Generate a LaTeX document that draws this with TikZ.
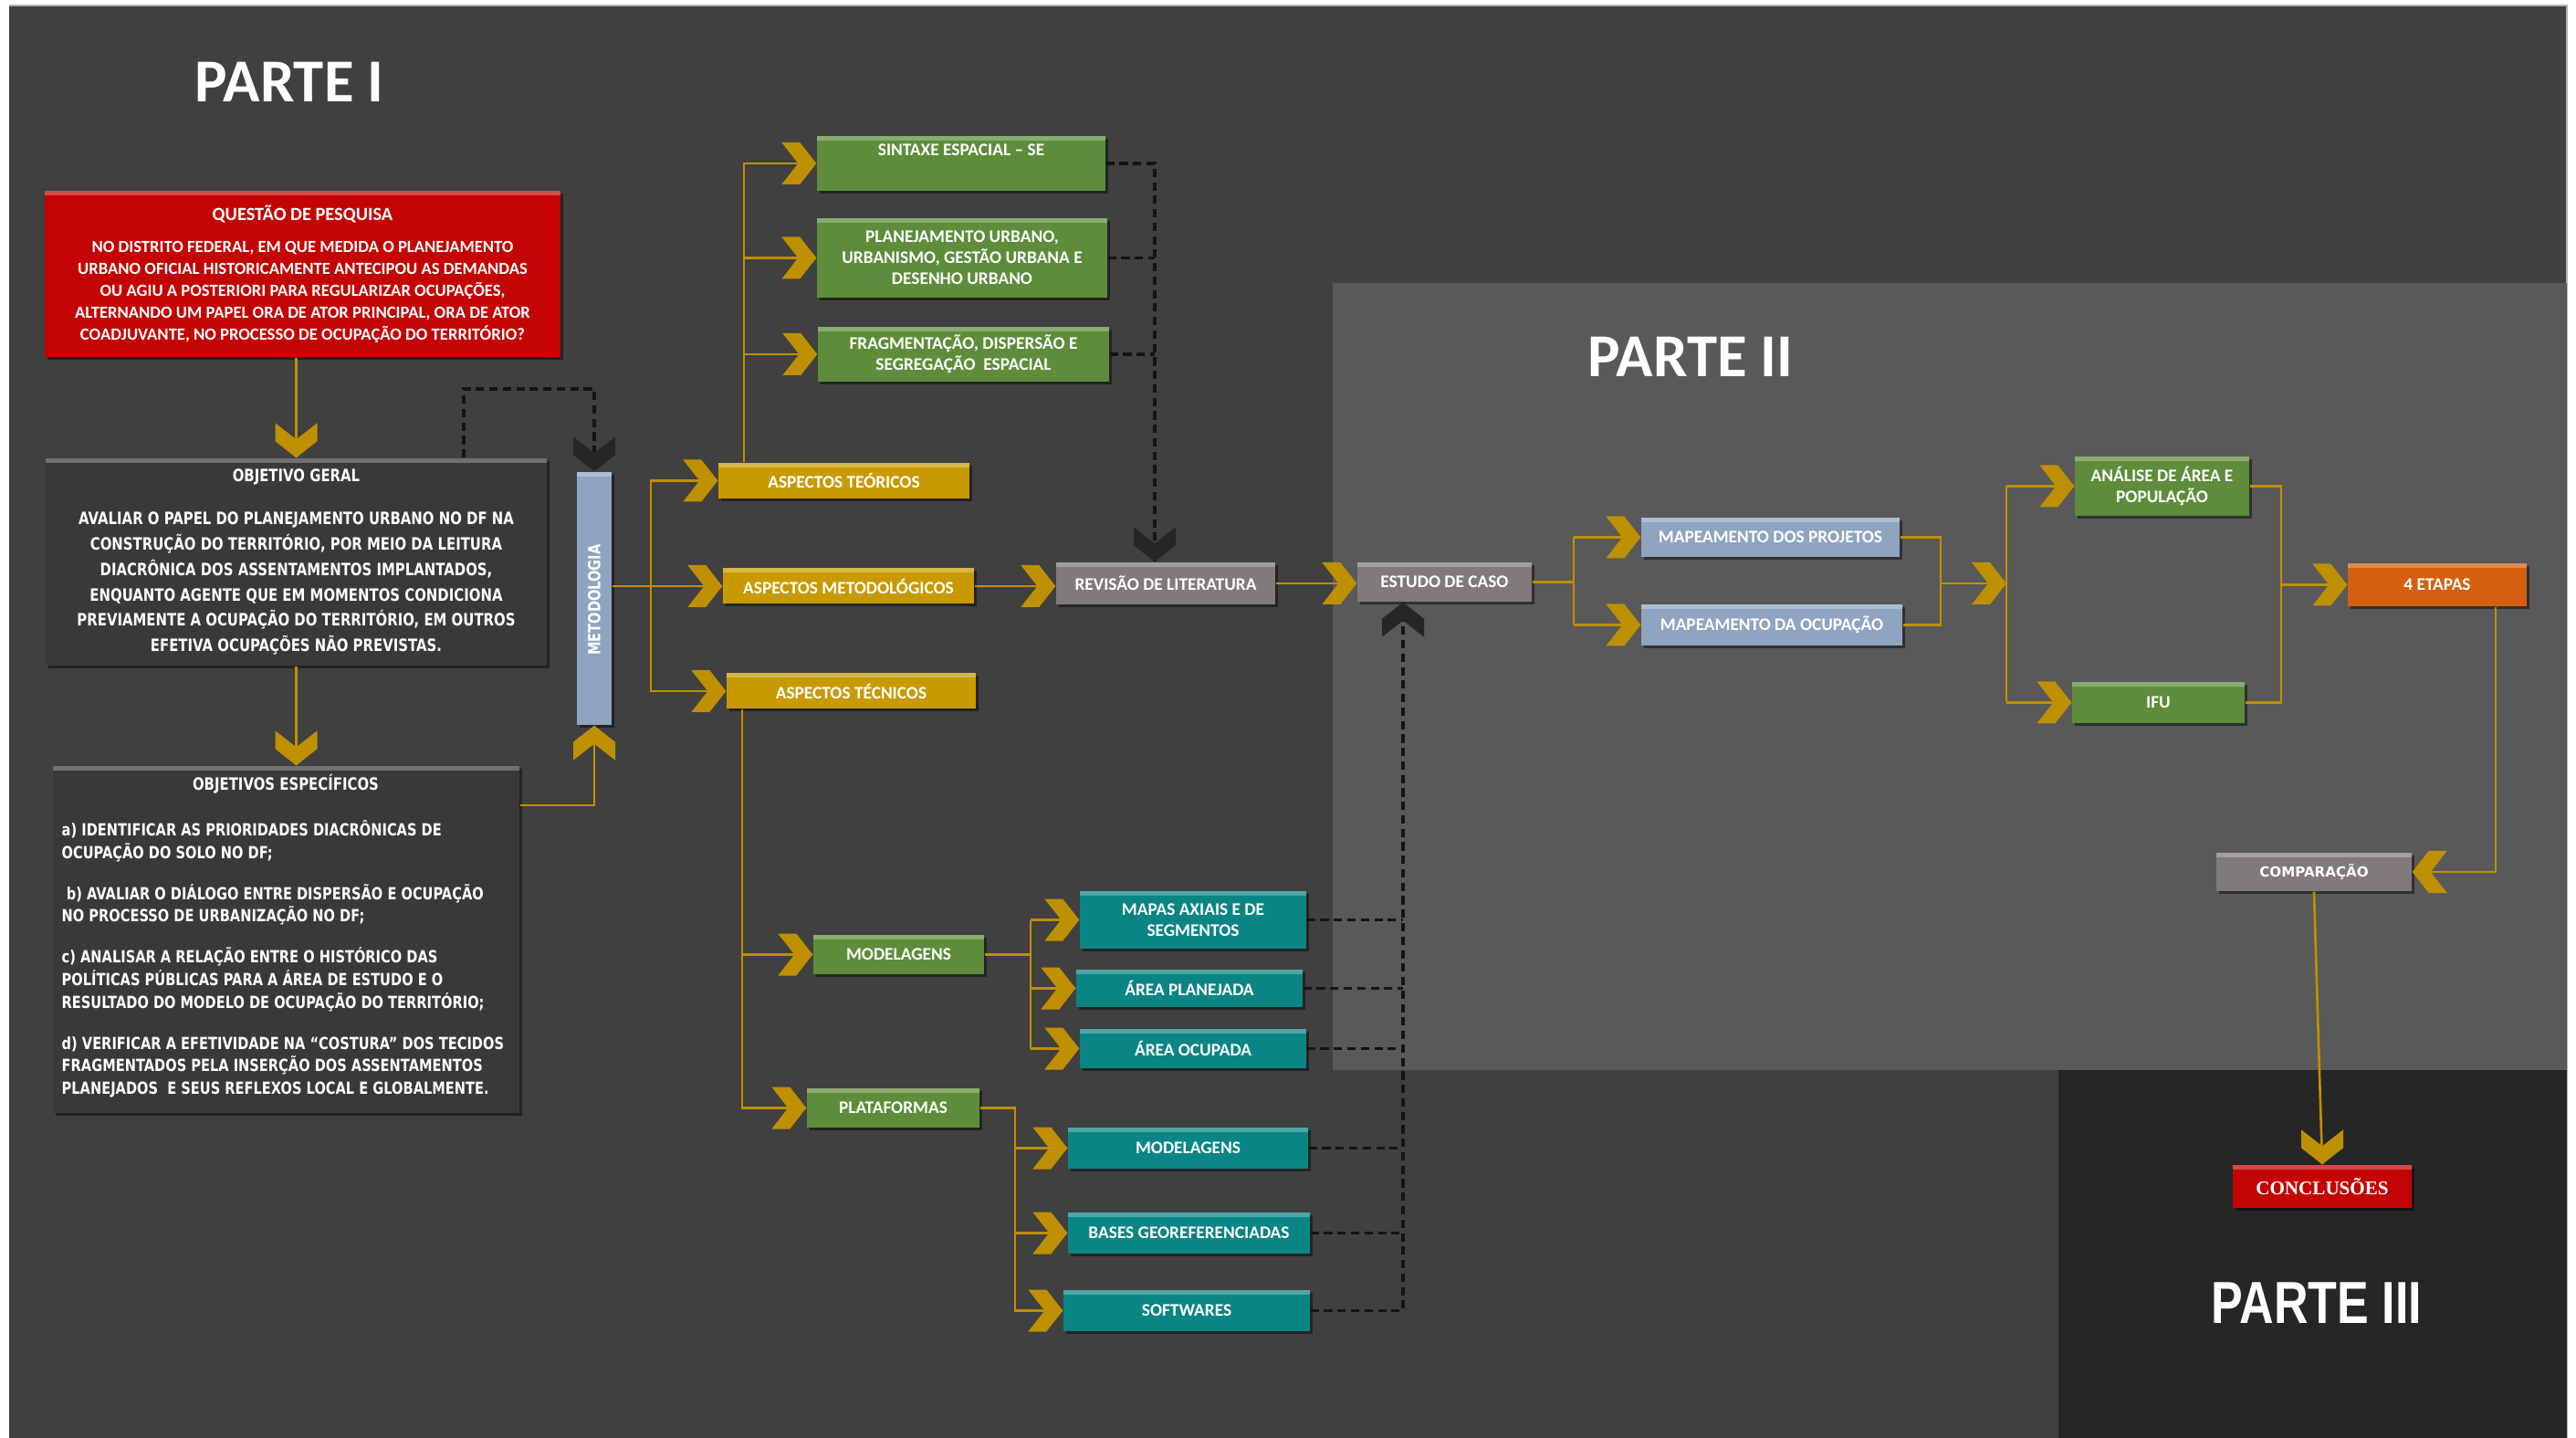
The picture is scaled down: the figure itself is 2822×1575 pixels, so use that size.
\documentclass[tikz,border=0pt]{standalone}
\usepackage{fontspec}
\usetikzlibrary{shadows}
\newfontfamily\fcal{Carlito}
\newfontfamily\fver[FakeStretch=0.8]{DejaVu Sans}
\newfontfamily\fverw{DejaVu Sans}
\newfontfamily\fari[FakeStretch=0.8]{Liberation Sans}
\newfontfamily\fser{Liberation Serif}
\definecolor{bgdark}{HTML}{404040}
\definecolor{parttwo}{HTML}{595959}
\definecolor{partthree}{HTML}{262626}
\definecolor{gold0}{HTML}{BF9000}
\definecolor{red0}{HTML}{C40404}
\definecolor{gray0}{HTML}{3B3838}
\definecolor{blue0}{HTML}{8EA4C1}
\definecolor{yel0}{HTML}{C99A00}
\definecolor{green0}{HTML}{5D8D3A}
\definecolor{teal0}{HTML}{0A8585}
\definecolor{grayb}{HTML}{7F7B7B}
\definecolor{orange0}{HTML}{D4600F}
\definecolor{blk}{HTML}{262626}
\begin{document}
\begin{tikzpicture}[x=0.1mm,y=-0.1mm,
  box/.style={fill=#1, text=white, inner sep=0pt, align=center,
    drop shadow={shadow xshift=0.8pt, shadow yshift=-0.8pt, opacity=0.45, fill=black},
    path picture={\fill[white,opacity=0.28] (path picture bounding box.north west) rectangle ([yshift=-1.4pt]path picture bounding box.north east);},
    font=\fcal\bfseries\fontsize{5.5}{6.6}\selectfont},
  gl/.style={draw=gold0, line width=0.75pt},
  dl/.style={draw=black!92, line width=0.9pt, dash pattern=on 2.6pt off 1.6pt},
  title/.style={text=white, inner sep=0pt},
  pics/chR/.style={code={\fill[pic actions] (0,0)--(-18,-23)--(-38,-23)--(-20,0)--(-38,23)--(-18,23)--cycle;}},
  pics/chL/.style={code={\fill[pic actions] (0,0)--(18,-23)--(38,-23)--(20,0)--(38,23)--(18,23)--cycle;}},
  pics/chD/.style={code={\fill[pic actions] (0,0)--(-23,-18)--(-23,-38)--(0,-20)--(23,-38)--(23,-18)--cycle;}},
  pics/chU/.style={code={\fill[pic actions] (0,0)--(-23,18)--(-23,38)--(0,20)--(23,38)--(23,18)--cycle;}},
]
\useasboundingbox (0,0) rectangle (2822,1575);
\fill[white] (0,0) rectangle (2822,1575);
\fill[bgdark] (10,6) rectangle (2812,1575);
\draw[color=black!30, line width=0.4pt] (10,6) -- (2812,6) -- (2812,1575);
\fill[parttwo] (1460,310) rectangle (2812,1172);
\fill[partthree] (2255,1172) rectangle (2812,1575);

% titles
\node[title, font=\fcal\bfseries\fontsize{19}{19}\selectfont] (p1) at (317,90) {PARTE I};
\node[title, font=\fcal\bfseries\fontsize{19}{19}\selectfont] (p2) at (1852,391) {PARTE II};
\node[title, font=\fari\bfseries\fontsize{18.5}{18.5}\selectfont] (p3) at (2538,1427) {PARTE III};

% ---------- nodes ----------
\node[box=red0, minimum width=56.5mm, minimum height=18.2mm, font=\fcal\bfseries\fontsize{5.3}{6.8}\selectfont] (q) at (331.5,300)
 {{\fontsize{5.8}{6.8}\selectfont QUESTÃO DE PESQUISA}\\[3.4pt]
  NO DISTRITO FEDERAL, EM QUE MEDIDA O PLANEJAMENTO\\
  URBANO OFICIAL HISTORICAMENTE ANTECIPOU AS DEMANDAS\\
  OU AGIU A POSTERIORI PARA REGULARIZAR OCUPAÇÕES,\\
  ALTERNANDO UM PAPEL ORA DE ATOR PRINCIPAL, ORA DE ATOR\\
  COADJUVANTE, NO PROCESSO DE OCUPAÇÃO DO TERRITÓRIO?};

\node[box=gray0, minimum width=54.9mm, minimum height=22.7mm, font=\fver\bfseries\fontsize{5.3}{7.9}\selectfont] (og) at (324.5,615.5)
 {OBJETIVO GERAL\\[5.5pt]
  AVALIAR O PAPEL DO PLANEJAMENTO URBANO NO DF NA\\
  CONSTRUÇÃO DO TERRITÓRIO, POR MEIO DA LEITURA\\
  DIACRÔNICA DOS ASSENTAMENTOS IMPLANTADOS,\\
  ENQUANTO AGENTE QUE EM MOMENTOS CONDICIONA\\
  PREVIAMENTE A OCUPAÇÃO DO TERRITÓRIO, EM OUTROS\\
  EFETIVA OCUPAÇÕES NÃO PREVISTAS.};

\node[box=gray0, minimum width=51.1mm, minimum height=38mm] (oe) at (313.5,1029) {};
\node[title, font=\fver\bfseries\fontsize{5.3}{7}\selectfont] (oeT) at (313,859) {OBJETIVOS ESPECÍFICOS};
\node[title, anchor=north west, align=left, font=\fver\bfseries\fontsize{5.2}{7}\selectfont] (oeB) at (67,898)
 {a) IDENTIFICAR AS PRIORIDADES DIACRÔNICAS DE\\
  OCUPAÇÃO DO SOLO NO DF;\\[5.8pt]
  \ b) AVALIAR O DIÁLOGO ENTRE DISPERSÃO E OCUPAÇÃO\\
  NO PROCESSO DE URBANIZAÇÃO NO DF;\\[5.8pt]
  c) ANALISAR A RELAÇÃO ENTRE O HISTÓRICO DAS\\
  POLÍTICAS PÚBLICAS PARA A ÁREA DE ESTUDO E O\\
  RESULTADO DO MODELO DE OCUPAÇÃO DO TERRITÓRIO;\\[5.8pt]
  d) VERIFICAR A EFETIVIDADE NA “COSTURA” DOS TECIDOS\\
  FRAGMENTADOS PELA INSERÇÃO DOS ASSENTAMENTOS\\
  PLANEJADOS \ E SEUS REFLEXOS LOCAL E GLOBALMENTE.};

\node[box=blue0, minimum width=3.8mm, minimum height=27.7mm] (met) at (651,655.5) {};
\node[title, rotate=90, font=\fver\bfseries\fontsize{5.2}{6}\selectfont] (metT) at (651,657) {METODOLOGIA};

\node[box=yel0, minimum width=27.5mm, minimum height=3.9mm] (at) at (924.5,526.5) {ASPECTOS TEÓRICOS};
\node[box=yel0, minimum width=27.5mm, minimum height=3.9mm] (am) at (929.5,642) {ASPECTOS METODOLÓGICOS};
\node[box=yel0, minimum width=27.3mm, minimum height=3.9mm] (atc) at (932.5,757) {ASPECTOS TÉCNICOS};

\node[box=green0, minimum width=31.6mm, minimum height=6mm] (sx) at (1053,179) {SINTAXE ESPACIAL – SE\\ \strut};
\node[box=green0, minimum width=31.8mm, minimum height=8.7mm] (pl) at (1054,282.5) {PLANEJAMENTO URBANO,\\URBANISMO, GESTÃO URBANA E\\DESENHO URBANO};
\node[box=green0, minimum width=31.9mm, minimum height=6mm] (fr) at (1055.5,388) {FRAGMENTAÇÃO, DISPERSÃO E\\SEGREGAÇÃO \ ESPACIAL};

\node[box=grayb, minimum width=24mm, minimum height=4.6mm] (rev) at (1277,639) {REVISÃO DE LITERATURA};
\node[box=grayb, minimum width=19.1mm, minimum height=4.3mm] (est) at (1582.5,637.5) {ESTUDO DE CASO};

\node[box=green0, minimum width=18.7mm, minimum height=4.3mm] (mod) at (984.5,1045.5) {MODELAGENS};
\node[box=green0, minimum width=18.9mm, minimum height=4.3mm] (plat) at (978.5,1213.5) {PLATAFORMAS};

\node[box=teal0, minimum width=24.8mm, minimum height=6.3mm] (map) at (1307,1007.5) {MAPAS AXIAIS E DE\\SEGMENTOS};
\node[box=teal0, minimum width=24.8mm, minimum height=4.1mm] (apl) at (1303,1082.5) {ÁREA PLANEJADA};
\node[box=teal0, minimum width=24.8mm, minimum height=4.3mm] (aoc) at (1307,1148.5) {ÁREA OCUPADA};
\node[box=teal0, minimum width=26.3mm, minimum height=4.5mm] (tmod) at (1301.5,1257.5) {MODELAGENS};
\node[box=teal0, minimum width=26.5mm, minimum height=4.5mm] (bas) at (1302.5,1350.5) {BASES GEOREFERENCIADAS};
\node[box=teal0, minimum width=27mm, minimum height=4.5mm] (sof) at (1300,1435.5) {SOFTWARES};

\node[box=blue0, minimum width=28.3mm, minimum height=4.3mm] (mp) at (1939.5,588.5) {MAPEAMENTO DOS PROJETOS};
\node[box=blue0, minimum width=28.6mm, minimum height=4.5mm] (mo) at (1941,684.5) {MAPEAMENTO DA OCUPAÇÃO};
\node[box=green0, minimum width=19.1mm, minimum height=6.5mm] (an) at (2368.5,532.5) {ANÁLISE DE ÁREA E\\POPULAÇÃO};
\node[box=green0, minimum width=18.9mm, minimum height=4.5mm] (ifu) at (2364.5,769.5) {IFU};
\node[box=orange0, minimum width=19.6mm, minimum height=4.7mm] (eta) at (2670,640.5) {4 ETAPAS};
\node[box=grayb, minimum width=21.4mm, minimum height=4.2mm, font=\fverw\bfseries\fontsize{4.3}{5}\selectfont] (cmp) at (2535,955) {COMPARAÇÃO};
\node[box=red0, minimum width=19.6mm, minimum height=4.7mm, font=\fser\bfseries\fontsize{6}{7}\selectfont] (con) at (2544,1299.5) {CONCLUSÕES};

% ---------- junction coordinates ----------
\coordinate (j1) at (651,882);
\coordinate (j2) at (508,426);
\coordinate (j3) at (713,0);
\coordinate (j4) at (815,0);
\coordinate (j5) at (1265,0);
\coordinate (j6) at (813,0);
\coordinate (j7) at (1129,0);
\coordinate (j8) at (1112,0);
\coordinate (j9) at (1537,0);
\coordinate (j10) at (1724,0);
\coordinate (j11) at (2126,0);
\coordinate (j12) at (2198,0);
\coordinate (j13) at (2126,639);
\coordinate (j14) at (2499,0);
\coordinate (j15) at (2734,0);

% ---------- gold connectors ----------
\draw[gl] (q.south -| og.north) -- (og.north);
\draw[gl] (og.south) -- (og.south |- oe.north);
\draw[gl] (oe.east |- j1) -- (j1) -- (met.south);
\draw[gl] (met.east |- am.west) -- (am.west);
\draw[gl] (at.west) -- (at.west -| j3) -- (atc.west -| j3) -- (atc.west);
\draw[gl] (at.north -| j4) -- (sx.west -| j4) -- (sx.west);
\draw[gl] (pl.west -| j4) -- (pl.west);
\draw[gl] (fr.west -| j4) -- (fr.west);
\draw[gl] (am.east) -- (am.east -| rev.west);
\draw[gl] (rev.east) -- (rev.east -| est.west);
\draw[gl] (atc.south -| j6) -- (plat.west -| j6) -- (plat.west);
\draw[gl] (mod.west -| j6) -- (mod.west);
\draw[gl] (mod.east) -- (mod.east -| j7);
\draw[gl] (map.west -| j7) -- (aoc.west -| j7);
\draw[gl] (map.west -| j7) -- (map.west);
\draw[gl] (apl.west -| j7) -- (apl.west);
\draw[gl] (aoc.west -| j7) -- (aoc.west);
\draw[gl] (plat.east) -- (plat.east -| j8) -- (sof.west -| j8) -- (sof.west);
\draw[gl] (tmod.west -| j8) -- (tmod.west);
\draw[gl] (bas.west -| j8) -- (bas.west);
\draw[gl] (est.east) -- (est.east -| j10);
\draw[gl] (mp.west -| j10) -- (mo.west -| j10);
\draw[gl] (mp.west -| j10) -- (mp.west);
\draw[gl] (mo.west -| j10) -- (mo.west);
\draw[gl] (mp.east) -- (mp.east -| j11) -- (mo.east -| j11) -- (mo.east);
\draw[gl] (j13) -- (j13 -| j12);
\draw[gl] (an.west -| j12) -- (ifu.west -| j12);
\draw[gl] (an.west -| j12) -- (an.west);
\draw[gl] (ifu.west -| j12) -- (ifu.west);
\draw[gl] (an.east) -- (an.east -| j14) -- (ifu.east -| j14) -- (ifu.east);
\draw[gl] (eta.west -| j14) -- (eta.west);
\draw[gl] (eta.south -| j15) -- (cmp.east -| j15) -- (cmp.east);
\draw[gl] (cmp.south) -- (con.north);

% ---------- dashed connectors ----------
\draw[dl] (og.north -| j2) -- (j2) -| (met.north);
\draw[dl] (sx.east) -- (sx.east -| j5) -- (rev.north -| j5);
\draw[dl] (pl.east) -- (pl.east -| j5);
\draw[dl] (fr.east) -- (fr.east -| j5);
\draw[dl] (map.east) -- (map.east -| j9);
\draw[dl] (apl.east) -- (apl.east -| j9);
\draw[dl] (aoc.east) -- (aoc.east -| j9);
\draw[dl] (tmod.east) -- (tmod.east -| j9);
\draw[dl] (bas.east) -- (bas.east -| j9);
\draw[dl] (sof.east) -- (sof.east -| j9) -- (est.south -| j9);

% ---------- chevrons ----------
\pic[fill=gold0] at (og.north) {chD};
\pic[fill=gold0] at (og.south |- oe.north) {chD};
\pic[fill=gold0] at (met.south) {chU};
\pic[fill=blk] at (met.north) {chD};
\pic[fill=gold0] at (at.west) {chR};
\pic[fill=gold0] at (am.west) {chR};
\pic[fill=gold0] at (atc.west) {chR};
\pic[fill=gold0] at (sx.west) {chR};
\pic[fill=gold0] at (pl.west) {chR};
\pic[fill=gold0] at (fr.west) {chR};
\pic[fill=blk] at (rev.north -| j5) {chD};
\pic[fill=gold0] at (am.east -| rev.west) {chR};
\pic[fill=gold0] at (rev.east -| est.west) {chR};
\pic[fill=blk] at (est.south -| j9) {chU};
\pic[fill=gold0] at (mod.west) {chR};
\pic[fill=gold0] at (plat.west) {chR};
\pic[fill=gold0] at (map.west) {chR};
\pic[fill=gold0] at (apl.west) {chR};
\pic[fill=gold0] at (aoc.west) {chR};
\pic[fill=gold0] at (tmod.west) {chR};
\pic[fill=gold0] at (bas.west) {chR};
\pic[fill=gold0] at (sof.west) {chR};
\pic[fill=gold0] at (mp.west) {chR};
\pic[fill=gold0] at (mo.west) {chR};
\pic[fill=gold0] at (j13 -| j12) {chR};
\pic[fill=gold0] at (an.west) {chR};
\pic[fill=gold0] at (ifu.west) {chR};
\pic[fill=gold0] at (eta.west) {chR};
\pic[fill=gold0] at (cmp.east) {chL};
\pic[fill=gold0] at (con.north) {chD};
\end{tikzpicture}
\end{document}
